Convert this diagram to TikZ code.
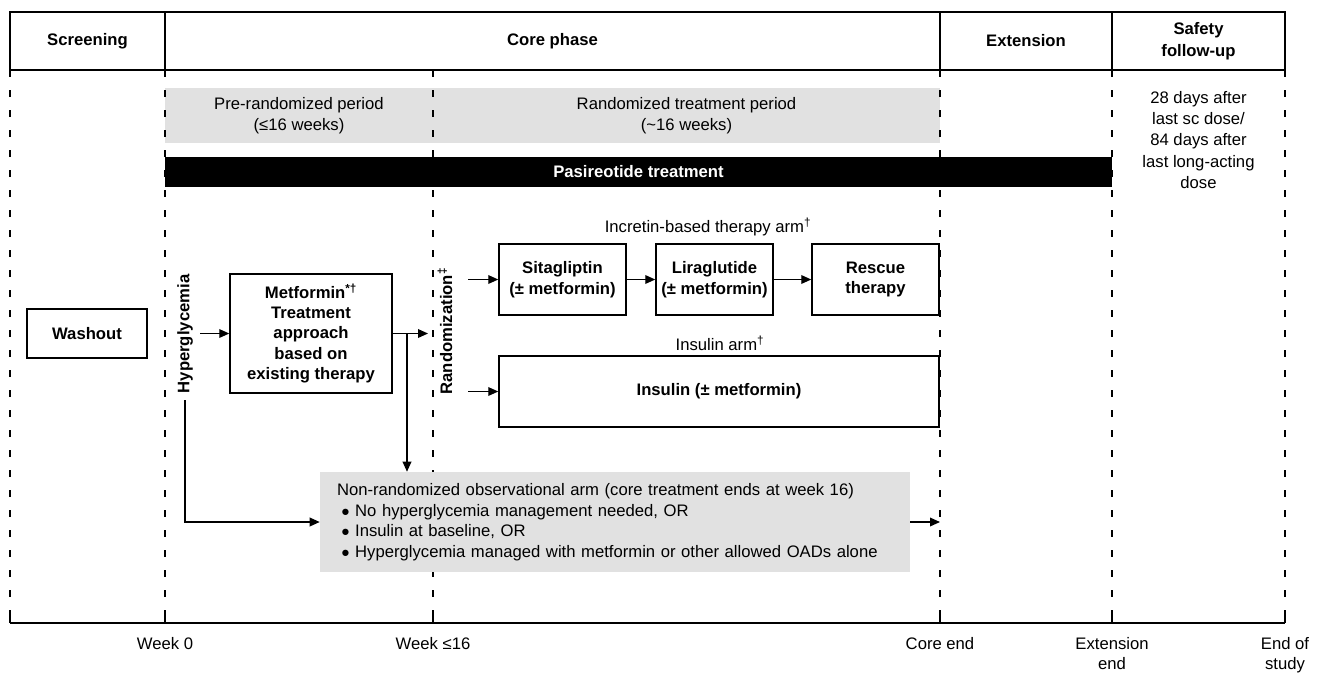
\documentclass[tikz,border=0pt]{standalone}
\usepackage{fontspec}
\setmainfont{Liberation Sans}
\usetikzlibrary{arrows.meta}
\definecolor{lightgray}{HTML}{E1E1E1}
\tikzset{
  base/.style={font=\fontsize{12.5}{15.5}\selectfont},
  box/.style={draw, line width=1.1pt, align=center, inner sep=0pt, font=\fontsize{12.5}{15.5}\selectfont\bfseries},
  graybox/.style={fill=lightgray, draw=none, align=center, inner sep=0pt, font=\fontsize{12.5}{15.5}\selectfont},
  arr/.style={-{Triangle[length=7.5pt,width=6.5pt]}, line width=1pt},
  dashline/.style={line width=0.9pt, dash pattern=on 5.5pt off 9.5pt},
  hdr/.style={font=\fontsize{12.5}{16.5}\selectfont\bfseries, align=center},
  lbl/.style={font=\fontsize{12.5}{15}\selectfont, align=center},
}
\newcommand{\blt}{\hspace*{3pt}{\fontsize{11}{11}\selectfont ●}\hspace{4pt}}
\begin{document}
\begin{tikzpicture}[x=0.75pt, y=-0.75pt]
\useasboundingbox (0,0) rectangle (1320,672);
% header
\draw[line width=1.5pt] (10,12) rectangle (1285,70);
\draw[line width=1.5pt] (165,12) -- (165,70) (940,12) -- (940,70) (1112,12) -- (1112,70);
\node[hdr] (hscr) at (87.5,41) {Screening};
\node[hdr] (hcore) at (552.5,41) {Core phase};
\node[hdr] (hext) at (1026,41) {Extension};
\node[hdr] (hsaf) at (1198.5,41) {Safety\\follow-up};
% gray period bars
\node[graybox, minimum width=201pt, minimum height=41.25pt] (pre) at (299,115.5) {Pre-randomized period\\(≤16 weeks)};
\node[graybox, minimum width=380.25pt, minimum height=41.25pt] (rnd) at (686.5,115.5) {Randomized treatment period\\(\textasciitilde16 weeks)};
% dashed verticals and axis
\foreach \xx in {10,165,433,940,1112,1285} {
  \draw[dashline] (\xx,70) -- (\xx,623);
}
\draw[line width=0.9pt] (10,623) -- (1285,623);
\foreach \xx in {10,165,433,940,1112,1285} {
  \draw[line width=0.9pt] (\xx,616) -- (\xx,623);
}
% black bar
\node[fill=black, text=white, font=\fontsize{12.5}{15}\selectfont\bfseries, minimum width=710.25pt, minimum height=22.5pt, inner sep=0pt] (pas) at (638.5,172) {Pasireotide treatment};
% safety text
\node[lbl, font=\fontsize{12.5}{16.1}\selectfont] (saf) at (1198.5,140) {28 days after\\last sc dose/\\84 days after\\last long-acting\\dose};
% washout
\node[box, fill=white, minimum width=90pt, minimum height=36.75pt] (wash) at (87,333.5) {Washout};
% hyperglycemia
\node[font=\fontsize{12.5}{15}\selectfont\bfseries, rotate=90, inner sep=3pt] (hyp) at (185,334) {Hyperglycemia};
\coordinate (hypout) at (200,333.5);
\coordinate (hypdown) at (185,400);
% metformin
\node[box, minimum width=121.5pt, minimum height=89.25pt, font=\fontsize{12.5}{15.2}\selectfont\bfseries] (met) at (311,333.5) {Metformin\textsuperscript{*†}\\Treatment\\approach\\based on\\existing therapy};
\draw[arr] (hypout) -- (met.west);
\coordinate (randin) at (428,333.5);
\coordinate (junc) at (407,333.5);
\draw[arr] (met.east) -- (randin);
% randomization
\node[font=\fontsize{12.5}{15}\selectfont\bfseries, rotate=90] (rand) at (445,331) {Randomization\textsuperscript{‡}};
% incretin arm
\node[lbl] (incl) at (708,227) {Incretin-based therapy arm\textsuperscript{†}};
\node[box, minimum width=95.25pt, minimum height=53.25pt] (sita) at (562.5,279.5) {Sitagliptin\\(± metformin)};
\node[box, minimum width=87.75pt, minimum height=53.25pt] (lira) at (714.5,279.5) {Liraglutide\\(± metformin)};
\node[box, minimum width=95.25pt, minimum height=53.25pt] (resc) at (875.5,279.5) {Rescue\\therapy};
\coordinate (r1) at (468,279.5);
\draw[arr] (r1) -- (sita.west);
\draw[arr] (sita.east) -- (lira.west);
\draw[arr] (lira.east) -- (resc.west);
% insulin arm
\node[lbl] (insl) at (720,343) {Insulin arm\textsuperscript{†}};
\node[box, minimum width=330pt, minimum height=53.25pt] (ins) at (719,391.5) {Insulin (± metformin)};
\coordinate (r2) at (468,391.5);
\draw[arr] (r2) -- (ins.west);
% observational arm
\node[fill=lightgray, minimum width=442.5pt, minimum height=75pt, inner xsep=12.75pt, inner ysep=0pt, text width=417pt, align=left, font=\fontsize{12.5}{15.4}\selectfont] (obs) at (615,522) {Non-randomized observational arm (core treatment ends at week 16)\\
\blt No hyperglycemia management needed, OR\\
\blt Insulin at baseline, OR\\
\blt Hyperglycemia managed with metformin or other allowed OADs alone};
\draw[arr] (junc) -- (junc |- obs.north);
\draw[arr] (hypdown) |- (obs.west);
\coordinate (ce) at (940,522);
\draw[arr] (obs.east) -- (ce);
% bottom labels
\node[lbl, anchor=north] (w0) at (165,633) {Week 0};
\node[lbl, anchor=north] (w16) at (433,633) {Week ≤16};
\node[lbl, anchor=north] (cend) at (940,633) {Core end};
\node[lbl, anchor=north] (eend) at (1112,633) {Extension\\end};
\node[lbl, anchor=north] (send) at (1285,633) {End of\\study};
\end{tikzpicture}
\end{document}
